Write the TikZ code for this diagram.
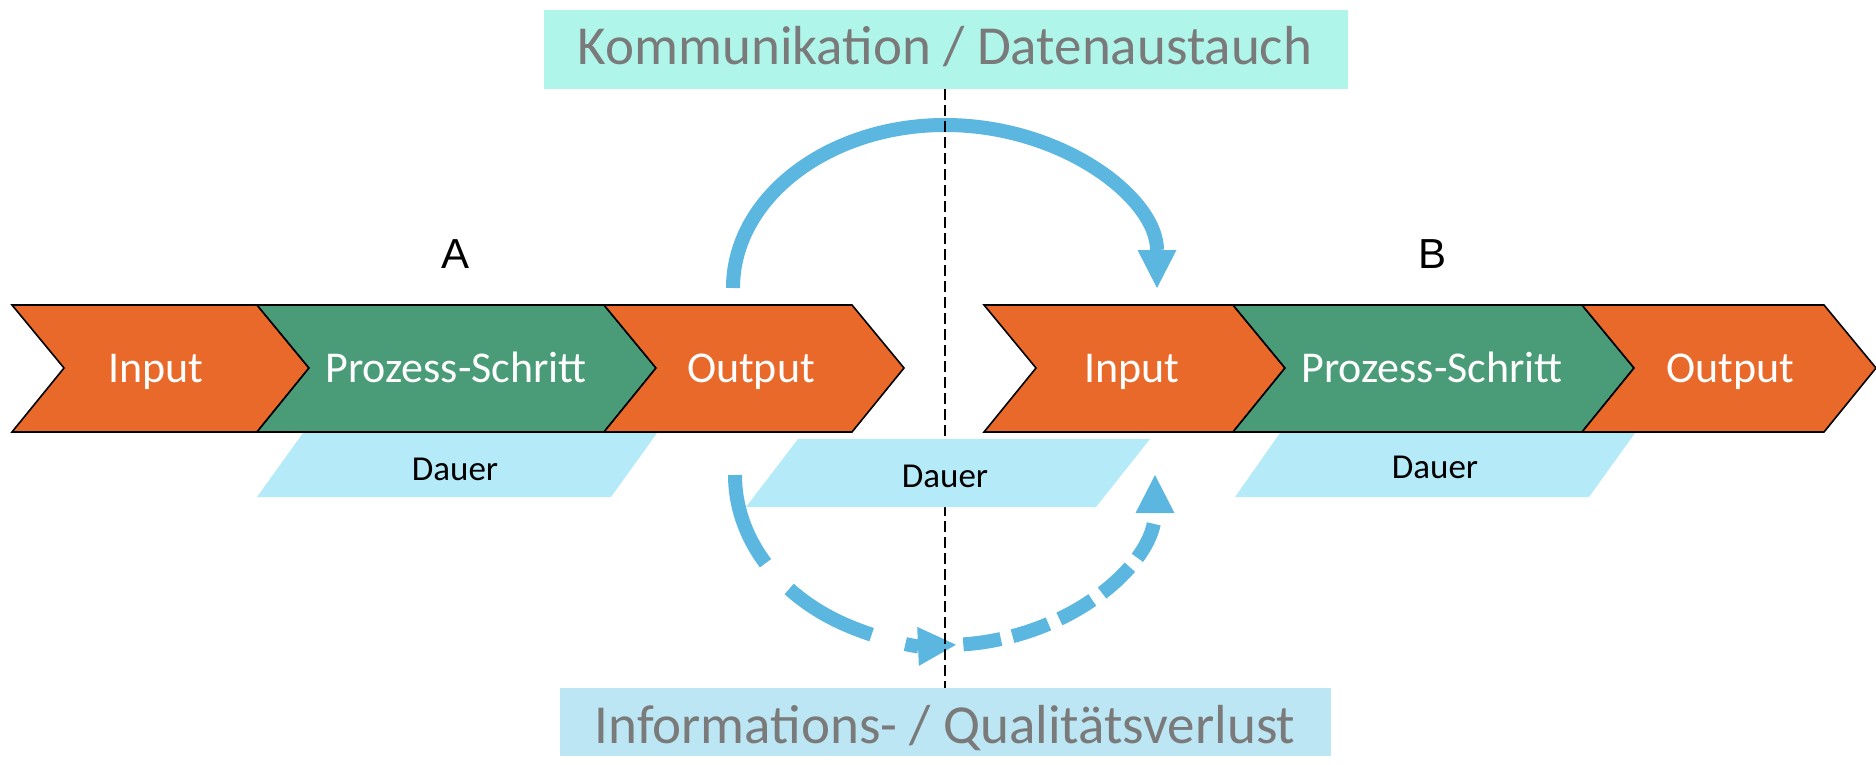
\documentclass[tikz,border=0pt]{standalone}
\usepackage{fontspec}
\setmainfont{Carlito}
\newfontfamily\letterfont{Liberation Sans}
\usetikzlibrary{arrows.meta}

\definecolor{procorange}{HTML}{E8692A}
\definecolor{procgreen}{HTML}{4A9C78}
\definecolor{durblue}{HTML}{B5EAF9}
\definecolor{topaqua}{HTML}{B0F5EA}
\definecolor{lossblue}{HTML}{BCE6F3}
\definecolor{flowblue}{HTML}{5BB6E0}
\definecolor{captiongray}{HTML}{7A7A7A}

\begin{document}
\begin{tikzpicture}[x=1pt,y=-1pt,
  seg/.style={draw=black,line width=1.6pt,line join=miter},
  segtext/.style={text=white,font=\fontsize{44}{44}\selectfont,anchor=base,inner sep=0pt},
  durtext/.style={text=black,font=\fontsize{35}{35}\selectfont,anchor=base,inner sep=0pt},
  caption/.style={text=captiongray,font=\fontsize{55}{55}\selectfont,anchor=base,inner sep=0pt},
  sidelabel/.style={text=black,font=\letterfont\fontsize{42}{42}\selectfont,anchor=base,inner sep=0pt},
  flow/.style={draw=flowblue,line width=14pt,
    -{Triangle[length=38pt,width=39pt,line width=0pt]}},
]
\useasboundingbox (0,0) rectangle (1876,765);

% caption boxes
\fill[topaqua] (544,10) rectangle (1348,89);
\fill[lossblue] (560,688) rectangle (1331,756);
\node[caption] (comm) at (945,65) {Kommunikation / Datenaustauch};
\node[caption] (loss) at (945,743) {Informations- / Qualitätsverlust};

% arc end points
\coordinate (commStart) at (733,288);
\coordinate (lossStart) at (735,475);
\coordinate (lossMid) at (963.3,644.4);

% communication: solid arc over the gap
\draw[flow] (commStart) arc[start angle=180,end angle=360,x radius=212,y radius=163];
% loss: dashed arc under the gap, in two parts
\draw[flow,dash pattern=on 95pt off 35pt] (lossStart)
  arc[start angle=180,end angle=87,x radius=210,y radius=170];
\draw[flow,dash pattern=on 38pt off 12pt] (lossMid)
  arc[start angle=85,end angle=0,x radius=210,y radius=170];

% separator between A and B
\coordinate (sepTop) at (945,89);
\coordinate (sepBot) at (945,688);
\draw[black,line width=1.5pt,dash pattern=on 11pt off 5pt] (sepTop) -- (sepBot);

% durations
\fill[durblue] (303,433) -- (657,433) -- (611,497) -- (257,497) -- cycle;
\fill[durblue] (798,439) -- (1150,439) -- (1096,507) -- (746,507) -- cycle;
\fill[durblue] (1280,433) -- (1635,433) -- (1589,497) -- (1235,497) -- cycle;
\node[durtext] (durA) at (455,480) {Dauer};
\node[durtext] (durAB) at (945,487) {Dauer};
\node[durtext] (durB) at (1435,478) {Dauer};

% process A
\filldraw[seg,fill=procorange] (12,305) -- (257,305) -- (309,368) -- (257,432) -- (12,432) -- (64,368) -- cycle;
\filldraw[seg,fill=procgreen] (257,305) -- (604,305) -- (656,368) -- (604,432) -- (257,432) -- (309,368) -- cycle;
\filldraw[seg,fill=procorange] (604,305) -- (852,305) -- (904,368) -- (852,432) -- (604,432) -- (656,368) -- cycle;
\node[segtext] (inA) at (156,382) {Input};
\node[segtext] (stepA) at (456,382) {Prozess-Schritt};
\node[segtext] (outA) at (751,382) {Output};
\node[sidelabel] (labA) at (456,268) {A};

% process B
\filldraw[seg,fill=procorange] (984,305) -- (1233,305) -- (1285,368) -- (1233,432) -- (984,432) -- (1036,368) -- cycle;
\filldraw[seg,fill=procgreen] (1233,305) -- (1582,305) -- (1634,368) -- (1582,432) -- (1233,432) -- (1285,368) -- cycle;
\filldraw[seg,fill=procorange] (1582,305) -- (1824,305) -- (1876,368) -- (1824,432) -- (1582,432) -- (1634,368) -- cycle;
\node[segtext] (inB) at (1132,382) {Input};
\node[segtext] (stepB) at (1432,382) {Prozess-Schritt};
\node[segtext] (outB) at (1730,382) {Output};
\node[sidelabel] (labB) at (1432,268) {B};
\end{tikzpicture}
\end{document}
